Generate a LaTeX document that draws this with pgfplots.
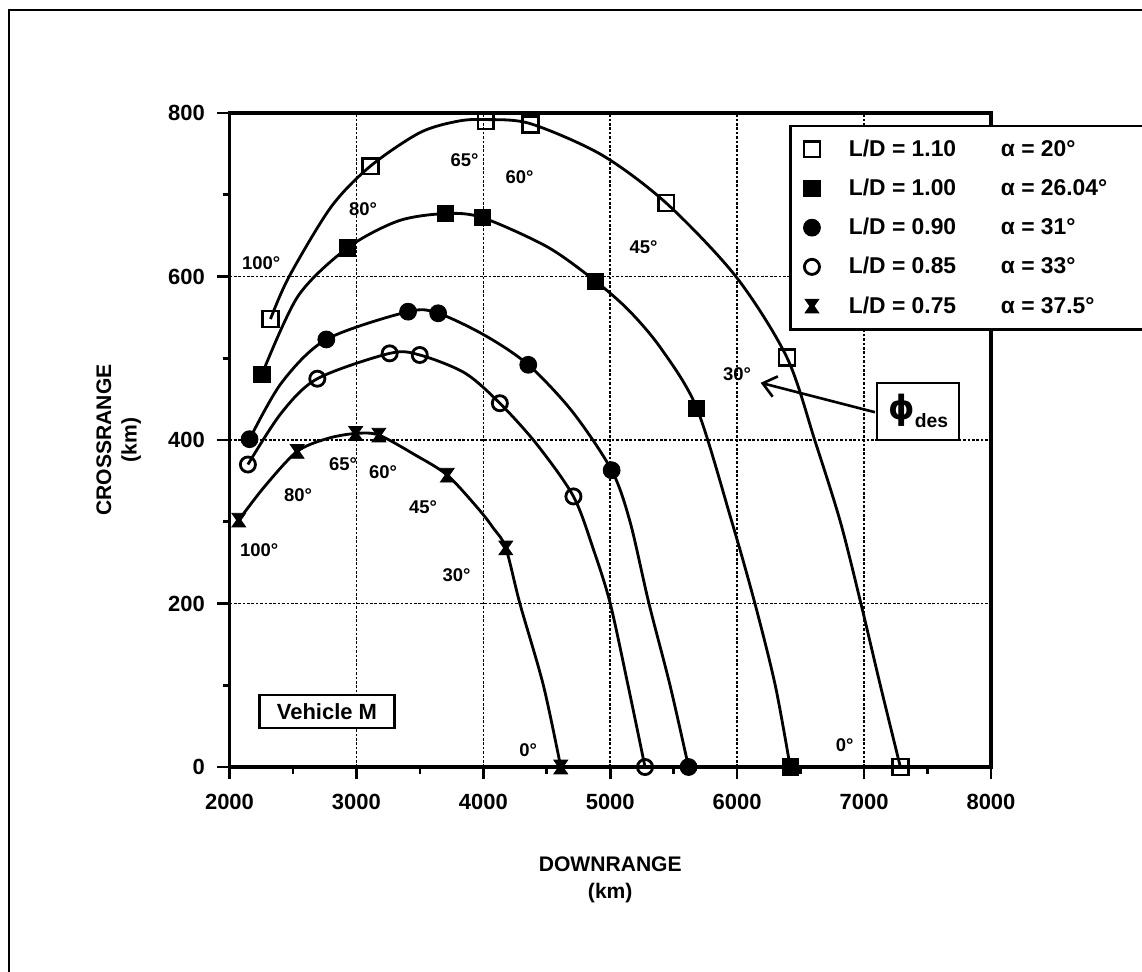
\documentclass[border=0pt]{standalone}
\usepackage{fontspec}
\setmainfont{Liberation Sans}
\newfontfamily\dejavu{DejaVu Sans}
\usepackage{pgfplots}
\pgfplotsset{compat=1.18}
\usetikzlibrary{arrows.meta}

\pgfdeclareplotmark{bowtie}{%
 \pgfpathmoveto{\pgfqpoint{-\pgfplotmarksize}{\pgfplotmarksize}}%
 \pgfpathlineto{\pgfqpoint{\pgfplotmarksize}{\pgfplotmarksize}}%
 \pgfpathlineto{\pgfqpoint{0.3\pgfplotmarksize}{0pt}}%
 \pgfpathlineto{\pgfqpoint{\pgfplotmarksize}{-\pgfplotmarksize}}%
 \pgfpathlineto{\pgfqpoint{-\pgfplotmarksize}{-\pgfplotmarksize}}%
 \pgfpathlineto{\pgfqpoint{-0.3\pgfplotmarksize}{0pt}}%
 \pgfpathclose
 \pgfusepathqfillstroke}

\pgfplotstableread{
x y
2323 548
2470 600
2800 685
3110 735
3500 776
3800 790
4020 792
4370 787
4930 749
5440 690
5990 600
6392 501
6615 398
6813 300
6975 200
7128 100
7286 0
}\curveA
\pgfplotstableread{
x y
2323 548
3110 735
4020 790
4370 786
5440 690
6392 501
7286 0
}\markA
\pgfplotstableread{
x y
2255 480
2540 576
2930 635
3330 668
3703 677
3993 672
4507 636
4886 594
5150 558
5400 512
5682 439
5958 300
6140 200
6300 100
6418 0
}\curveB
\pgfplotstableread{
x y
2255 480
2930 635
3703 677
3993 672
4886 594
5682 439
6418 0
}\markB
\pgfplotstableread{
x y
2158 401
2410 470
2763 523
3407 557
3644 555
4012 528
4354 492
4700 435
5011 363
5156 300
5305 200
5471 100
5617 0
}\curveC
\pgfplotstableread{
x y
2158 401
2763 523
3407 557
3644 555
4354 492
5011 363
5617 0
}\markC
\pgfplotstableread{
x y
2145 370
2408 433
2692 475
3262 506
3499 504
3854 482
4130 445
4420 395
4710 331
4870 265
5000 200
5140 100
5274 0
}\curveD
\pgfplotstableread{
x y
2145 370
2692 475
3262 506
3499 504
4130 445
4710 331
5274 0
}\markD
\pgfplotstableread{
x y
2073 302
2276 343
2533 386
2776 402
2994 408
3177 406
3460 382
3716 357
3960 316
4080 292
4177 268
4288 200
4473 100
4610 0
}\curveE
\pgfplotstableread{
x y
2073 302
2533 386
2994 408
3177 406
3716 357
4177 268
4610 0
}\markE

\begin{document}
\bfseries
\begin{tikzpicture}
\useasboundingbox (-45.9mm,-40.8mm) rectangle (182.5mm,153.4mm);
\begin{axis}[
 at={(0,0)}, anchor=south west,
 scale only axis, width=152.3mm, height=130.8mm,
 xmin=2000, xmax=8000, ymin=0, ymax=800,
 xtick={2000,3000,...,8000}, ytick={0,200,...,800},
 minor xtick={2500,3500,...,7500}, minor ytick={100,300,500,700},
 xtick pos=left, ytick pos=left,
 tick align=outside,
 major tick length=2.4mm, minor tick length=1.3mm,
 tick style={black, line width=1.5pt},
 axis line style={line width=1.8pt},
 grid=major,
 major grid style={dash pattern=on 1.5pt off 1pt, black, line width=0.9pt},
 scaled ticks=false,
 /pgf/number format/1000 sep={},
 /pgf/number format/assume math mode=true,
 tick label style={font=\fontsize{12.5}{14}\selectfont},
 yticklabel style={xshift=-1.3mm},
 xticklabel style={yshift=-1.8mm},
 xlabel={DOWNRANGE\\(km)}, ylabel={CROSSRANGE\\(km)},
 xlabel style={at={(axis description cs:0.5,-0.127)}, anchor=north, align=center, font=\fontsize{12}{15.5}\selectfont},
 ylabel style={at={(axis description cs:-0.108,0.5)}, anchor=south, align=center, font=\fontsize{12}{14.5}\selectfont},
 legend style={at={(0.735,0.982)}, anchor=north west, draw=black, line width=1.5pt, fill=white,
   inner xsep=2.6mm, inner ysep=2mm, row sep=2.6mm, font=\fontsize{13}{15}\selectfont},
 legend cell align=left,
]
\addplot[black, line width=1.6pt, smooth, forget plot] table {\curveA};
\addplot[black, line width=1.6pt, smooth, forget plot] table {\curveB};
\addplot[black, line width=1.6pt, smooth, forget plot] table {\curveC};
\addplot[black, line width=1.6pt, smooth, forget plot] table {\curveD};
\addplot[black, line width=1.6pt, smooth, forget plot] table {\curveE};

\addplot[only marks, black, mark=square, mark size=4.5pt, mark options={line width=1.5pt, solid}] table {\markA};
\addlegendentry{\hspace*{5mm}\makebox[70mm][l]{\makebox[30.4mm][l]{L/D = 1.10}α = 20°}}
\addplot[only marks, black, mark=square*, mark size=4.6pt, mark options={line width=0.5pt, solid, fill=black}] table {\markB};
\addlegendentry{\hspace*{5mm}\makebox[70mm][l]{\makebox[30.4mm][l]{L/D = 1.00}α = 26.04°}}
\addplot[only marks, black, mark=*, mark size=4.8pt, mark options={line width=0.5pt, solid, fill=black}] table {\markC};
\addlegendentry{\hspace*{5mm}\makebox[70mm][l]{\makebox[30.4mm][l]{L/D = 0.90}α = 31°}}
\addplot[only marks, black, mark=o, mark size=4.3pt, mark options={line width=1.6pt, solid}] table {\markD};
\addlegendentry{\hspace*{5mm}\makebox[70mm][l]{\makebox[30.4mm][l]{L/D = 0.85}α = 33°}}
\addplot[only marks, black, mark=bowtie, mark size=3.9pt, mark options={line width=0.5pt, solid, fill=black}] table {\markE};
\addlegendentry{\hspace*{5mm}\makebox[70mm][l]{\makebox[30.4mm][l]{L/D = 0.75}α = 37.5°}}

\begin{scope}[every node/.style={font=\fontsize{10.5}{12}\selectfont}]
\node at (axis cs:2250,616) {100°};
\node at (axis cs:3052,683) {80°};
\node at (axis cs:3852,742) {65°};
\node at (axis cs:4286,722) {60°};
\node at (axis cs:5262,636) {45°};
\node at (axis cs:6000,480) {30°};
\node at (axis cs:6847,27) {0°};
\node at (axis cs:2234,265) {100°};
\node at (axis cs:2540,333) {80°};
\node at (axis cs:2895,371) {65°};
\node at (axis cs:3210,361) {60°};
\node at (axis cs:3526,318) {45°};
\node at (axis cs:3789,235) {30°};
\node at (axis cs:4354,21) {0°};
\end{scope}

\node[draw, line width=1.3pt, fill=white, minimum width=27mm, minimum height=6.6mm, inner sep=0pt, font=\fontsize{12.5}{14}\selectfont] at (axis cs:2768,68) {Vehicle M};
\draw[line width=1.5pt, -{Straight Barb[length=2.6mm,width=4.2mm]}] (axis cs:7086,434) -- (axis cs:6185,470);
\node[draw, line width=1.3pt, fill=white, minimum width=16.4mm, minimum height=11.4mm, inner sep=0pt] at (axis cs:7426,435)
  {{\dejavu\bfseries\fontsize{19}{20}\selectfont ϕ}\raisebox{-1.6mm}{\fontsize{11}{12}\selectfont des}};
\end{axis}
\draw[line width=0.9pt] (-44.1mm,-45mm) -- (-44.1mm,151.4mm) -- (190mm,151.4mm);
\end{tikzpicture}
\end{document}
